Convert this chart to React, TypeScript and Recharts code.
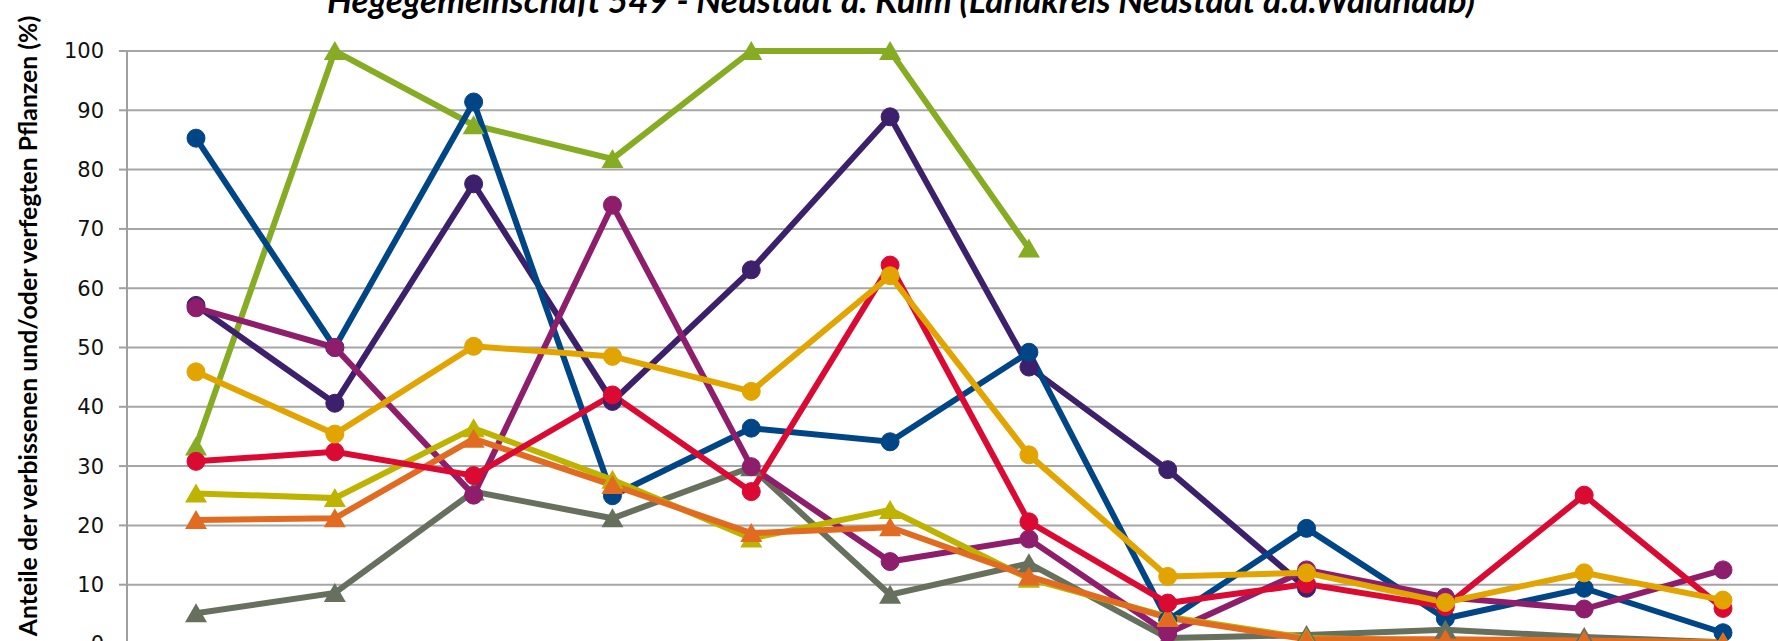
import { LineChart, Line, XAxis, YAxis, CartesianGrid } from 'recharts';

// Survey years (x axis, cut off below the visible area in the reference)
const YEARS = ['1991', '1994', '1997', '2000', '2003', '2006', '2009', '2012', '2015', '2018', '2021', '2024'];

// Share of browsed and/or frayed plants (%) per series
const BLAU    = [85.3, 50, 91.4, 25, 36.4, 34.1, 49.2, 4.0, 19.5, 4.3, 9.4, 1.9];
const GRUEN   = [33.3, 100, 87.5, 81.8, 100, 100, 66.7, null, null, null, null, null];
const LILA    = [57.1, 40.6, 77.6, 40.9, 63.1, 88.9, 46.7, 29.4, 9.4, null, null, null];
const MAGENTA = [56.7, 50.0, 25.1, 74.0, 29.9, 13.9, 17.7, 1.8, 12.5, 7.9, 5.9, 12.5];
const GOLD    = [45.9, 35.4, 50.2, 48.5, 42.6, 62.1, 31.9, 11.4, 12.0, 7.0, 12.0, 7.4];
const ROT     = [30.8, 32.4, 28.4, 42.0, 25.7, 63.9, 20.6, 6.9, 10.1, 6.3, 25.1, 6.0];
const OLIV    = [25.4, 24.6, 36.4, 27.7, 17.8, 22.6, 11.0, 4.6, 1.0, 0.5, 0.5, 0.3];
const ORANGE  = [20.9, 21.2, 34.6, 26.8, 18.7, 19.7, 11.4, 4.4, 0.8, 0.8, 0.6, 0.2];
const GRAU    = [5.2, 8.6, 25.7, 21.2, 29.8, 8.3, 13.6, 1.0, 1.5, 2.4, 1.2, 0.3];

const Y_TICKS = [0, 10, 20, 30, 40, 50, 60, 70, 80, 90, 100];

const TITLE = 'Hegegemeinschaft 549 - Neustadt a. Kulm (Landkreis Neustadt a.d.Waldnaab)';
const Y_LABEL = 'Anteile der verbissenen und/oder verfegten Pflanzen (%)';

// drawing order = stacking order (last on top)
const SERIES = [
  { key: 'gruen',   color: '#86AC23', tri: true,  values: GRUEN },
  { key: 'lila',    color: '#3D206B', tri: false, values: LILA },
  { key: 'blau',    color: '#004586', tri: false, values: BLAU },
  { key: 'grau',    color: '#66705C', tri: true,  values: GRAU },
  { key: 'magenta', color: '#8E1E6C', tri: false, values: MAGENTA },
  { key: 'oliv',    color: '#BDB300', tri: true,  values: OLIV },
  { key: 'orange',  color: '#E26B22', tri: true,  values: ORANGE },
  { key: 'rot',     color: '#DB0A33', tri: false, values: ROT },
  { key: 'gold',    color: '#E2A400', tri: false, values: GOLD },
];

const data = YEARS.map((year, i) => {
  const row: Record<string, string | number | null> = { year };
  SERIES.forEach(s => { row[s.key] = s.values[i]; });
  return row;
});

const triangleDot = (color: string) => (props: any) => {
  const { cx, cy, index } = props;
  if (cx == null || cy == null) return <g key={index} />;
  return (
    <path
      key={index}
      d={`M${cx},${cy - 10} L${cx + 11},${cy + 9} L${cx - 11},${cy + 9} Z`}
      fill={color}
    />
  );
};

export default function App() {
  return (
    <div style={{ position: 'absolute', left: 0, top: 0, width: 1778, height: 641, overflow: 'hidden', background: 'white' }}>
      <LineChart width={1800} height={720} data={data} margin={{ top: 51, right: 8, left: 0, bottom: 46 }}>
        <CartesianGrid vertical={false} stroke="#A6A6A6" strokeWidth={2} />
        <XAxis dataKey="year" height={30} stroke="#A6A6A6" padding={{ left: 69, right: 69 }} tick={false} />
        <YAxis
          width={127}
          domain={[0, 100]}
          ticks={Y_TICKS}
          interval={0}
          stroke="#A0A0A0"
          strokeWidth={2}
          tickSize={8}
          tickMargin={15}
          tick={{ fontSize: 21, fill: '#111', fontFamily: 'DejaVu Sans' }}
        />
        {SERIES.map(s => (
          <Line
            key={s.key}
            dataKey={s.key}
            stroke={s.color}
            strokeWidth={6}
            isAnimationActive={false}
            connectNulls={false}
            activeDot={false}
            dot={s.tri ? triangleDot(s.color) : { r: 9, fill: s.color, stroke: s.color, strokeWidth: 1 }}
          />
        ))}
      </LineChart>
      <svg width={1778} height={641} style={{ position: 'absolute', left: 0, top: 0, pointerEvents: 'none' }}>
        <text x={901} y={13} textAnchor="middle" fontFamily="Lato" fontWeight="bold" fontStyle="italic" fontSize={35} fill="#000">
          {TITLE}
        </text>
        <text
          transform="translate(37, 326) rotate(-90)"
          textAnchor="middle"
          fontFamily="Lato"
          fontWeight="bold"
          fontSize={24.8}
          fill="#000"
        >
          {Y_LABEL}
        </text>
      </svg>
    </div>
  );
}
